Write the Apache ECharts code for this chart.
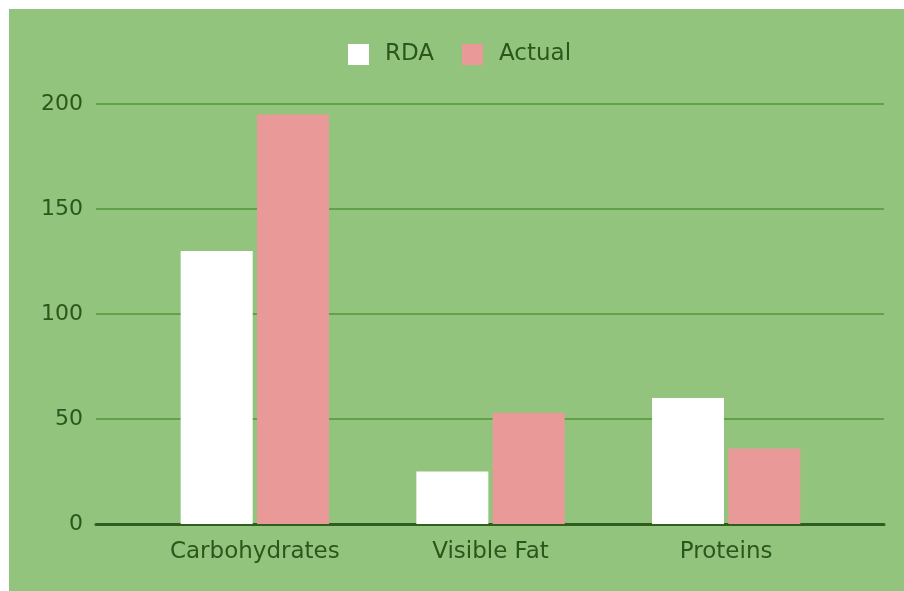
<!DOCTYPE html>
<html>
<head>
<meta charset="utf-8">
<script src="https://cdn.jsdelivr.net/npm/echarts@6/dist/echarts.min.js"></script>
<style>
html,body{margin:0;padding:0;background:#ffffff;}
#chart{position:absolute;left:9px;top:9px;width:895px;height:582px;}
</style>
</head>
<body>
<div id="chart"></div>
<script>
const categories = ['Carbohydrates', 'Visible Fat', 'Proteins'];
const rdaValues = [130, 25, 60];
const actualValues = [195, 53, 36];
const yTicks = [0, 50, 100, 150, 200];

const textColor = '#2b561c';
const fontFamily = 'DejaVu Sans';
const chart = echarts.init(document.getElementById('chart'), null, {renderer: 'canvas'});
const yMin = yTicks[0], yMax = yTicks[yTicks.length - 1], yStep = yTicks[1] - yTicks[0];

chart.setOption({
  backgroundColor: '#93c47d',
  animation: false,
  legend: {
    left: 334, top: 29,
    itemWidth: 21, itemHeight: 21, itemGap: 28,
    icon: 'rect',
    textStyle: {color: textColor, fontFamily: fontFamily, fontSize: 23, padding: [0, 0, 0, 11]},
    data: ['RDA', 'Actual']
  },
  grid: [
    {left: 128, right: 60, top: 95, bottom: 67},
    {left: 87, right: 20, top: 95, bottom: 67}
  ],
  xAxis: [
    {
      type: 'category', gridIndex: 0, data: categories,
      axisLine: {show: false}, axisTick: {show: false},
      axisLabel: {color: textColor, fontFamily: fontFamily, fontSize: 23, margin: 17}
    },
    {
      type: 'category', gridIndex: 1, data: categories,
      axisLine: {show: true, lineStyle: {color: '#2f5e1f', width: 3}},
      axisTick: {show: false}, axisLabel: {show: false}
    }
  ],
  yAxis: [
    {
      type: 'value', gridIndex: 0, min: yMin, max: yMax, interval: yStep,
      show: false, splitLine: {show: false}
    },
    {
      type: 'value', gridIndex: 1, min: yMin, max: yMax, interval: yStep,
      axisLine: {show: false}, axisTick: {show: false},
      axisLabel: {color: textColor, fontFamily: fontFamily, fontSize: 22, margin: 13},
      splitLine: {lineStyle: {color: '#62a04a', width: 2}}
    }
  ],
  series: [
    {
      name: 'RDA', type: 'bar', xAxisIndex: 0, yAxisIndex: 0,
      data: rdaValues, barWidth: 72, barGap: '6%',
      itemStyle: {color: '#ffffff'}
    },
    {
      name: 'Actual', type: 'bar', xAxisIndex: 0, yAxisIndex: 0,
      data: actualValues, barWidth: 72, barGap: '6%',
      itemStyle: {color: '#ea9999'}
    }
  ]
});
</script>
</body>
</html>
